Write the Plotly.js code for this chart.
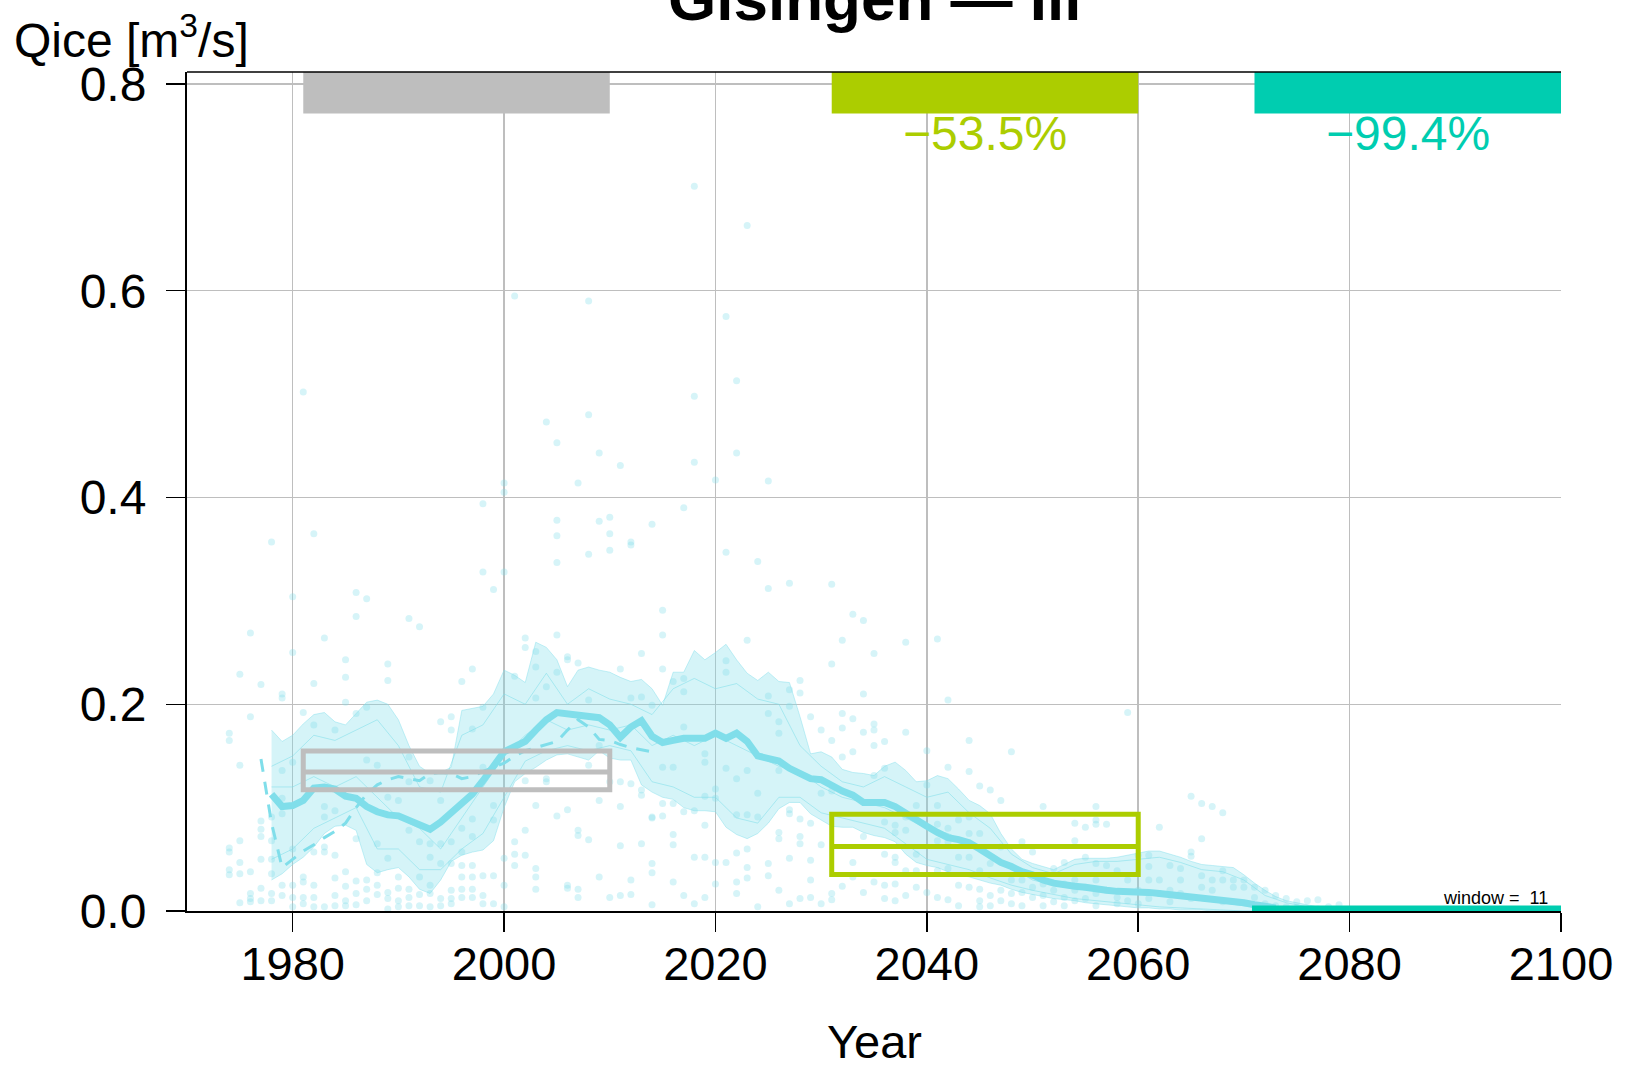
<!DOCTYPE html>
<html>
<head>
<meta charset="utf-8">
<script src="https://cdn.plot.ly/plotly-3.0.1.min.js"></script>
<style>html,body{margin:0;padding:0;background:#fff;}#chart{width:1627px;height:1072px;}</style>
</head>
<body>
<div id="chart"></div>
<script>
// ---------------- DATA ----------------
const titleText = "Gisingen — Ill";
const yTickVals = [0, 0.2, 0.4, 0.6, 0.8];
const yTickText = ["0.0", "0.2", "0.4", "0.6", "0.8"];
const xTickVals = [1980, 2000, 2020, 2040, 2060, 2080, 2100];

// scatter points: per year, annual values of the ensemble members
const ptYears = [1974,1975,1976,1977,1978,1979,1980,1981,1982,1983,1984,1985,1986,1987,1988,1989,1990,1991,1992,1993,1994,1995,1996,1997,1998,1999,
  2000,2001,2002,2003,2004,2005,2006,2007,2008,2009,2010,2011,2012,2013,2014,2015,2016,2017,2018,2019,2020,2021,2022,2023,2024,2025,2026,2027,2028,2029,
  2030,2031,2032,2033,2034,2035,2036,2037,2038,2039,2040,2041,2042,2043,2044,2045,2046,2047,2048,2049,2050,2051,2052,2053,2054,2055,2056,2057,2058,2059,
  2060,2061,2062,2063,2064,2065,2066,2067,2068,2069,2070,2071,2072,2073,2074,2075,2076,2077,2078,2079];
const ptVals = [
  [0.172,0.165,0.061,0.057,0.040,0.035],
  [0.229,0.141,0.068,0.047,0.036,0.008],
  [0.269,0.188,0.038,0.017,0.012,0.009],
  [0.219,0.087,0.079,0.072,0.050,0.022,0.010],
  [0.357,0.091,0.068,0.050,0.036,0.017,0.010],
  [0.210,0.206,0.136,0.109,0.094,0.025,0.015],
  [0.304,0.250,0.144,0.060,0.025,0.013,0.004],
  [0.502,0.192,0.033,0.028,0.013,0.007],
  [0.365,0.220,0.180,0.057,0.025,0.013,0.004],
  [0.264,0.101,0.091,0.062,0.057,0.004],
  [0.175,0.097,0.054,0.032,0.015,0.005],
  [0.243,0.226,0.202,0.038,0.024,0.010,0.005],
  [0.308,0.285,0.191,0.070,0.029,0.017,0.006],
  [0.302,0.197,0.146,0.030,0.021,0.010],
  [0.141,0.065,0.037,0.025,0.016],
  [0.239,0.223,0.110,0.051,0.018,0.012,0.002],
  [0.107,0.033,0.022,0.010,0.004],
  [0.283,0.149,0.125,0.078,0.021,0.013,0.005],
  [0.275,0.067,0.033,0.016,0.005],
  [0.126,0.065,0.052,0.025,0.017,0.004],
  [0.183,0.107,0.065,0.046,0.012,0.005],
  [0.188,0.175,0.067,0.046,0.020,0.012,0.007],
  [0.222,0.080,0.057,0.044,0.033,0.021,0.013],
  [0.234,0.176,0.089,0.072,0.044,0.033,0.021,0.013],
  [0.394,0.328,0.197,0.139,0.034,0.015,0.007],
  [0.311,0.102,0.088,0.034,0.007],
  [0.414,0.405,0.328,0.051,0.025,0.004],
  [0.595,0.227,0.067,0.055,0.044],
  [0.264,0.255,0.126,0.078,0.054],
  [0.251,0.236,0.206,0.102,0.041,0.033,0.021],
  [0.473,0.217,0.128,0.125],
  [0.453,0.378,0.363,0.337,0.267,0.231,0.092],
  [0.246,0.243,0.098,0.025,0.022],
  [0.414,0.240,0.078,0.073,0.021,0.013],
  [0.590,0.480,0.345,0.204,0.141,0.069],
  [0.443,0.377,0.160,0.107,0.033],
  [0.381,0.365,0.349,0.125,0.013],
  [0.431,0.234,0.125,0.101,0.063,0.015],
  [0.357,0.354,0.206,0.123,0.030,0.016],
  [0.249,0.207,0.117,0.112,0.065],
  [0.374,0.199,0.091,0.090,0.046,0.037,0.006],
  [0.291,0.267,0.234,0.139,0.104,0.092],
  [0.222,0.139,0.104,0.074,0.064,0.028],
  [0.390,0.225,0.212,0.178,0.096,0.015],
  [0.701,0.498,0.434,0.097,0.052,0.007],
  [0.152,0.144,0.111,0.083,0.052,0.013],
  [0.417,0.118,0.109,0.047,0.026],
  [0.575,0.347,0.242,0.231,0.138,0.047],
  [0.513,0.443,0.128,0.093,0.056,0.028,0.017],
  [0.663,0.262,0.136,0.093,0.060,0.042,0.032],
  [0.338,0.114,0.091,0.004],
  [0.416,0.312,0.208,0.191,0.046,0.034],
  [0.183,0.172,0.136,0.076,0.070,0.020],
  [0.317,0.214,0.198,0.098,0.094,0.051,0.007],
  [0.223,0.211,0.089,0.072,0.065,0.012],
  [0.188,0.085,0.049,0.030,0.013],
  [0.175,0.114,0.064,0.007],
  [0.316,0.239,0.165,0.116,0.017,0.011],
  [0.262,0.191,0.177,0.149,0.024],
  [0.287,0.186,0.154,0.047,0.033],
  [0.281,0.210,0.173,0.072,0.018],
  [0.249,0.181,0.175,0.160,0.131,0.028],
  [0.164,0.138,0.086,0.055,0.025,0.012],
  [0.083,0.076,0.052,0.047,0.026,0.010],
  [0.260,0.173,0.091,0.078,0.039,0.015],
  [0.102,0.055,0.039,0.023],
  [0.155,0.122,0.018],
  [0.263,0.102,0.084,0.068,0.039,0.013],
  [0.204,0.139,0.080,0.067,0.041,0.011],
  [0.088,0.052,0.025,0.005],
  [0.165,0.135,0.091,0.075,0.052,0.023],
  [0.121,0.075,0.039,0.021,0.010,0.004],
  [0.117,0.046,0.015,0.005],
  [0.107,0.062,0.020,0.010],
  [0.154,0.030,0.017,0.007],
  [0.067,0.030,0.018,0.005],
  [0.057,0.034,0.023,0.013],
  [0.101,0.026,0.015,0.005],
  [0.041,0.020,0.009],
  [0.047,0.026,0.013,0.005],
  [0.085,0.068,0.030,0.020,0.010],
  [0.081,0.052,0.023,0.012],
  [0.101,0.088,0.084,0.046,0.030,0.017,0.005],
  [0.084,0.044,0.020],
  [0.039,0.013,0.007],
  [0.192,0.030,0.010],
  [0.054,0.020,0.007],
  [0.054,0.043,0.030,0.012],
  [0.081,0.030,0.017],
  [0.044,0.020,0.009],
  [0.041,0.030,0.017],
  [0.111,0.057,0.053,0.012],
  [0.104,0.070,0.034,0.023],
  [0.101,0.030,0.020],
  [0.095,0.039,0.030,0.009],
  [0.030,0.023],
  [0.030,0.023],
  [0.023,0.013],
  [0.020,0.007],
  [0.015,0.005],
  [0.012,0.004],
  [0.009,0.003],
  [0.010,0.002],
  [0.011,0.002],
  [0.004],
  [0.006]
];

// ensemble range of the 11-year moving averages
const bandYears = [1978,1979,1980,1981,1982,1983,1984,1985,1986,1987,1988,1989,1990,1991,1992,1993,1994,1995,1996,1997,1998,1999,
  2000,2001,2002,2003,2004,2005,2006,2007,2008,2009,2010,2011,2012,2013,2014,2015,2016,2017,2018,2019,2020,2021,2022,2023,2024,2025,2026,2027,2028,2029,
  2030,2031,2032,2033,2034,2035,2036,2037,2038,2039,2040,2041,2042,2043,2044,2045,2046,2047,2048,2049,2050,2051,2052,2053,2054,2055,2056,2057,2058,2059,
  2060,2061,2062,2063,2064,2065,2066,2067,2068,2069,2070,2071,2072,2073,2074,2075,2076,2077];
const bandUpper = [0.175,0.164,0.170,0.181,0.190,0.192,0.183,0.180,0.191,0.202,0.204,0.200,0.185,0.160,0.140,0.133,0.134,0.139,0.194,0.196,0.198,0.210,
  0.233,0.228,0.221,0.260,0.255,0.243,0.217,0.233,0.236,0.233,0.231,0.226,0.222,0.224,0.215,0.199,0.231,0.231,0.252,0.243,0.250,0.258,0.243,0.230,0.223,0.231,0.222,0.221,0.188,0.152,
  0.154,0.149,0.137,0.134,0.133,0.131,0.140,0.144,0.136,0.125,0.126,0.131,0.128,0.118,0.107,0.102,0.094,0.075,0.060,0.050,0.046,0.043,0.040,0.045,0.050,0.051,0.051,0.051,0.052,0.054,
  0.056,0.058,0.058,0.055,0.052,0.048,0.045,0.044,0.043,0.042,0.035,0.027,0.020,0.014,0.010,0.008,0.006,0.004];
const bandLower = [0.030,0.036,0.045,0.052,0.062,0.075,0.082,0.083,0.078,0.045,0.037,0.040,0.042,0.033,0.021,0.017,0.030,0.048,0.054,0.057,0.059,0.068,
  0.100,0.125,0.133,0.139,0.146,0.151,0.152,0.149,0.146,0.155,0.148,0.146,0.146,0.122,0.115,0.110,0.108,0.100,0.097,0.097,0.096,0.081,0.074,0.070,0.075,0.085,0.099,0.105,0.105,0.094,
  0.088,0.082,0.081,0.081,0.076,0.073,0.071,0.067,0.055,0.047,0.044,0.042,0.038,0.035,0.033,0.030,0.027,0.025,0.021,0.018,0.016,0.014,0.012,0.011,0.010,0.008,0.007,0.006,0.005,0.004,
  0.003,0.003,0.002,0.002,0.001,0.001,0.001,0,0,0,0,0,0,0,0,0,0,0];

// individual member moving averages (thin lines)
const memberYears = [1978,1980,1982,1984,1986,1988,1990,1992,1994,1996,1998,2000,2002,2004,2006,2008,2010,2012,2014,2016,2018,2020,2022,2024,2026,2028,
  2030,2032,2034,2036,2038,2040,2042,2044,2046,2048,2050,2052,2054,2056,2058,2060,2062,2064,2066,2068,2070,2072,2074,2076];
const member1 = [0.140,0.150,0.170,0.165,0.175,0.185,0.160,0.120,0.115,0.170,0.180,0.210,0.200,0.230,0.200,0.215,0.205,0.200,0.190,0.215,0.225,0.215,0.220,0.205,0.200,0.160,
  0.140,0.125,0.120,0.130,0.120,0.110,0.115,0.095,0.080,0.055,0.042,0.036,0.045,0.048,0.048,0.050,0.052,0.047,0.040,0.038,0.030,0.015,0.008,0.004];
const member2 = [0.120,0.120,0.130,0.120,0.130,0.110,0.090,0.080,0.060,0.090,0.120,0.150,0.170,0.185,0.175,0.180,0.175,0.180,0.160,0.170,0.160,0.170,0.160,0.150,0.140,0.135,
  0.120,0.110,0.105,0.100,0.090,0.080,0.075,0.065,0.055,0.042,0.030,0.025,0.022,0.020,0.018,0.016,0.015,0.013,0.010,0.008,0.005,0.003,0.001,0.000];
const member3 = [0.050,0.060,0.080,0.090,0.100,0.060,0.060,0.040,0.040,0.060,0.075,0.110,0.145,0.155,0.160,0.155,0.160,0.155,0.125,0.120,0.110,0.110,0.090,0.085,0.110,0.110,
  0.095,0.090,0.085,0.080,0.065,0.050,0.045,0.040,0.032,0.025,0.020,0.016,0.012,0.010,0.008,0.006,0.004,0.003,0.002,0.001,0.000,0.000,0.000,0.000];

// ensemble mean moving average (thick line)
const meanYears = [1978,1979,1980,1981,1982,1983,1984,1985,1986,1987,1988,1989,1990,1991,1992,1993,1994,1995,1996,1997,1998,1999,
  2000,2001,2002,2003,2004,2005,2006,2007,2008,2009,2010,2011,2012,2013,2014,2015,2016,2017,2018,2019,2020,2021,2022,2023,2024,2025,2026,2027,2028,2029,
  2030,2031,2032,2033,2034,2035,2036,2037,2038,2039,2040,2041,2042,2043,2044,2045,2046,2047,2048,2049,2050,2051,2052,2053,2054,2055,2056,2057,2058,2059,
  2060,2061,2062,2063,2064,2065,2066,2067,2068,2069,2070,2071,2072,2073];
const meanVals = [0.113,0.101,0.102,0.107,0.119,0.120,0.118,0.111,0.109,0.101,0.096,0.093,0.092,0.088,0.083,0.079,0.086,0.095,0.105,0.113,0.126,0.139,
  0.154,0.159,0.164,0.175,0.185,0.192,0.191,0.190,0.189,0.187,0.180,0.168,0.178,0.184,0.169,0.163,0.165,0.167,0.167,0.167,0.172,0.167,0.172,0.164,0.150,0.147,0.145,0.138,0.133,0.128,
  0.127,0.121,0.116,0.112,0.105,0.105,0.105,0.101,0.094,0.089,0.082,0.076,0.071,0.069,0.066,0.060,0.053,0.047,0.043,0.038,0.035,0.030,0.027,0.025,0.024,0.023,0.021,0.020,0.019,0.019,
  0.018,0.018,0.017,0.016,0.015,0.014,0.013,0.012,0.011,0.010,0.008,0.006,0.004,0.003];

// observation-based moving average (dashed line)
const obsYears = [1977,1978,1979,1980,1981,1982,1983,1984,1985,1986,1987,1988,1989,1990,1991,1992,1993,1994,1995,1996,1997,1998,1999,2000,
  2001,2002,2003,2004,2005,2006,2007,2008,2009,2010,2011,2012,2013,2014];
const obsVals = [0.147,0.085,0.042,0.050,0.058,0.064,0.071,0.077,0.085,0.100,0.113,0.122,0.127,0.130,0.128,0.126,0.133,0.134,0.133,0.128,0.130,0.135,0.139,0.143,
  0.150,0.155,0.158,0.161,0.164,0.175,0.185,0.178,0.166,0.165,0.161,0.158,0.156,0.154];

// period summaries: [start, end], mean, min, max of the 11-year moving average
const periodNames = ["1981-2010", "2031-2060", "2071-2100"];
const periodStart = [1981, 2031, 2071];
const periodEnd = [2010, 2060, 2100];
const periodMean = [0.1345, 0.0625, 0.0010];
const periodLow = [0.1174, 0.0354, 0.0004];
const periodHigh = [0.1548, 0.0935, 0.0030];
const periodChange = ["", "−53.5%", "−99.4%"];
const windowLabel = "window =  11";

// ---------------- STYLE ----------------
const cyan = "rgb(128,222,234)";
const periodColors = ["#BEBEBE", "#ACCD00", "#00CDB0"];
const FONT = "Liberation Sans, Arial, Helvetica, sans-serif";
const yMax = 0.8116;

const ptX = [], ptY = [];
ptYears.forEach((yr, i) => ptVals[i].forEach(v => { ptX.push(yr); ptY.push(v); }));

const traces = [];
traces.push({
  type: "scatter", mode: "markers", x: ptX, y: ptY,
  marker: { size: 7, color: "rgba(128,222,234,0.32)", line: { width: 0 } },
  hoverinfo: "skip", showlegend: false
});
traces.push({
  type: "scatter", mode: "lines",
  x: bandYears.concat(bandYears.slice().reverse()),
  y: bandUpper.concat(bandLower.slice().reverse()),
  fill: "toself", fillcolor: "rgba(128,222,234,0.33)",
  line: { color: "rgba(128,222,234,0.45)", width: 1 },
  hoverinfo: "skip", showlegend: false
});
[member1, member2, member3].forEach(m => traces.push({
  type: "scatter", mode: "lines", x: memberYears, y: m,
  line: { color: "rgba(128,222,234,0.55)", width: 1 },
  hoverinfo: "skip", showlegend: false
}));
traces.push({
  type: "scatter", mode: "lines", x: obsYears, y: obsVals,
  line: { color: cyan, width: 3, dash: "13px,10px" },
  hoverinfo: "skip", showlegend: false
});
traces.push({
  type: "scatter", mode: "lines", x: meanYears, y: meanVals,
  line: { color: cyan, width: 7 },
  hoverinfo: "skip", showlegend: false
});

const shapes = [];
periodStart.forEach((s, i) => {
  const c = periodColors[i], e = periodEnd[i];
  shapes.push({ type: "rect", xref: "x", yref: "y", x0: s, x1: e, y0: periodLow[i], y1: periodHigh[i],
    line: { color: c, width: 5 }, fillcolor: "rgba(0,0,0,0)" });
  shapes.push({ type: "line", xref: "x", yref: "y", x0: s, x1: e, y0: periodMean[i], y1: periodMean[i],
    line: { color: c, width: 5 } });
  shapes.push({ type: "rect", xref: "x", yref: "y", x0: s, x1: e, y0: 0.7714, y1: yMax,
    line: { width: 0 }, fillcolor: c });
});
shapes.push({ type: "line", xref: "paper", yref: "paper", x0: 0, x1: 1, y0: 1, y1: 1,
  line: { color: "#000", width: 1.5 } });

const annotations = [];
annotations.push({ xref: "paper", yref: "paper", x: 0.5, y: 1, yanchor: "bottom", yshift: 37,
  text: "<b>" + titleText + "</b>", showarrow: false, font: { family: FONT, size: 62, color: "#000" } });
annotations.push({ xref: "paper", yref: "paper", x: -187/1374, xanchor: "left", xshift: 12, y: 1, yanchor: "bottom", yshift: 3,
  text: "Qice [m<sup>3</sup>/s]", showarrow: false, font: { family: FONT, size: 48, color: "#000" } });
annotations.push({ xref: "paper", yref: "paper", x: 0.5, y: -0.155, yanchor: "middle",
  text: "Year", showarrow: false, font: { family: FONT, size: 47, color: "#000" } });
[1, 2].forEach(i => annotations.push({
  xref: "x", yref: "y", x: (periodStart[i] + periodEnd[i]) / 2, y: 0.7714, yanchor: "top", yshift: 9,
  text: periodChange[i], showarrow: false, font: { family: FONT, size: 48, color: periodColors[i] }
}));
annotations.push({ xref: "x", yref: "y", x: 2099, y: 0.0125, xanchor: "right", yanchor: "middle",
  text: windowLabel, showarrow: false, font: { family: FONT, size: 18, color: "#000" } });

const layout = {
  width: 1627, height: 1072,
  margin: { l: 187, r: 66, t: 72, b: 161, pad: 0 },
  paper_bgcolor: "#fff", plot_bgcolor: "#fff",
  showlegend: false,
  font: { family: FONT, color: "#000" },
  xaxis: {
    range: [1970, 2100], tickmode: "array", tickvals: xTickVals,
    ticks: "outside", ticklen: 19, tickwidth: 1.5, tickcolor: "#000",
    ticklabelstandoff: -8,
    showline: true, linecolor: "#000", linewidth: 2, mirror: false,
    showgrid: true, gridcolor: "#BEBEBE", gridwidth: 1.5, zeroline: false,
    tickfont: { family: FONT, size: 47, color: "#000" }
  },
  yaxis: {
    range: [0, yMax], tickmode: "array", tickvals: yTickVals, ticktext: yTickText,
    ticks: "outside", ticklen: 19, tickwidth: 1.5, tickcolor: "#000",
    ticklabelstandoff: 10,
    showline: true, linecolor: "#000", linewidth: 2, mirror: false,
    showgrid: true, gridcolor: "#BEBEBE", gridwidth: 1.5, zeroline: false,
    tickfont: { family: FONT, size: 48, color: "#000" }
  },
  shapes: shapes,
  annotations: annotations
};

Plotly.newPlot("chart", traces, layout, { displayModeBar: false, staticPlot: true });
</script>
</body>
</html>
